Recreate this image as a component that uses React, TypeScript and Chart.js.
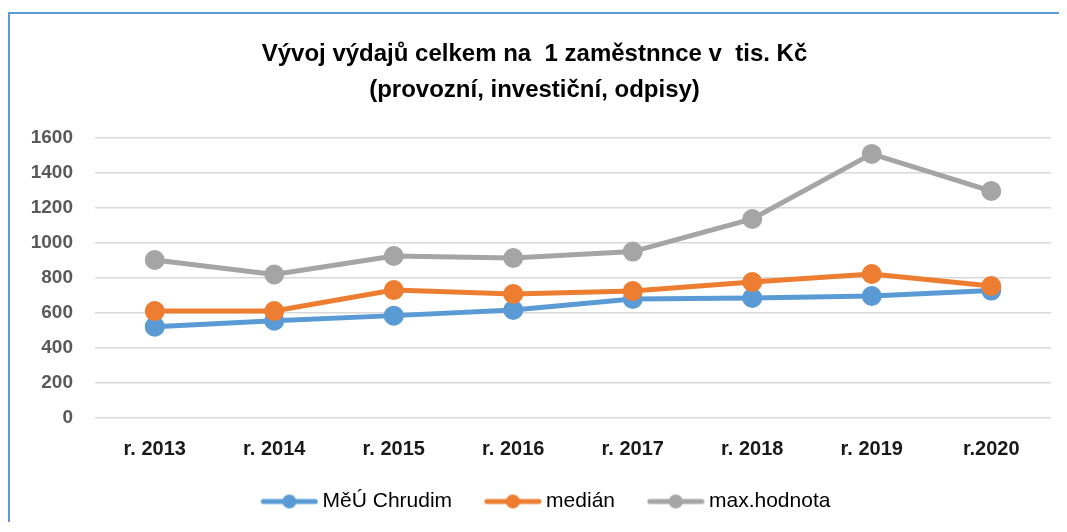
import React, { useEffect, useRef } from "react";
import { Chart, registerables } from "chart.js";

Chart.register(...registerables);

const categories = ["r. 2013", "r. 2014", "r. 2015", "r. 2016", "r. 2017", "r. 2018", "r. 2019", "r.2020"];
const mestskyUrad = [522, 556, 585, 617, 680, 686, 697, 728];
const median = [611, 611, 731, 709, 726, 777, 823, 754];
const maxHodnota = [903, 820, 926, 914, 951, 1137, 1509, 1297];
const seriesNames = ["MěÚ Chrudim", "medián", "max.hodnota"];
const titleLines = ["Vývoj výdajů celkem na  1 zaměstnnce v  tis. Kč", "(provozní, investiční, odpisy)"];

const BLUE = "#5B9BD5";
const ORANGE = "#ED7D31";
const GRAY = "#A5A5A5";
const FONT = "'Liberation Sans', Arial, sans-serif";

function legendIcon(color: string): HTMLCanvasElement {
  const W = 86;
  const H = 18;
  const c = document.createElement("canvas");
  c.width = W;
  c.height = H;
  const ctx = c.getContext("2d")!;
  const a = 29;
  const b = 85;
  ctx.strokeStyle = color;
  ctx.lineWidth = 5;
  ctx.lineCap = "round";
  ctx.beginPath();
  ctx.moveTo(a + 2, H / 2);
  ctx.lineTo(b - 2, H / 2);
  ctx.stroke();
  ctx.fillStyle = color;
  ctx.beginPath();
  ctx.arc((a + b) / 2, H / 2, 7, 0, Math.PI * 2);
  ctx.fill();
  return c;
}

export default function App() {
  const ref = useRef<HTMLCanvasElement | null>(null);

  useEffect(() => {
    if (!ref.current) return;
    document.documentElement.style.overflow = "hidden";
    const colors = [BLUE, ORANGE, GRAY];
    const values = [mestskyUrad, median, maxHodnota];
    const icons = colors.map((c) => legendIcon(c));
    const chart = new Chart(ref.current, {
      type: "line",
      data: {
        labels: categories,
        datasets: values.map((v, i) => ({
          label: seriesNames[i],
          data: v,
          borderColor: colors[i],
          backgroundColor: colors[i],
          pointBackgroundColor: colors[i],
          pointBorderColor: colors[i],
          borderWidth: 5,
          pointRadius: 7.5,
          pointHoverRadius: 7.5,
          pointStyle: "circle",
          tension: 0,
          order: 3 - i,
        })),
      },
      options: {
        animation: false,
        responsive: false,
        devicePixelRatio: 1,
        events: [],
        layout: { padding: { left: 8, right: 16, top: 0, bottom: 0 } },
        plugins: {
          tooltip: { enabled: false },
          title: {
            display: true,
            text: titleLines,
            color: "#000000",
            font: { family: FONT, size: 24, weight: "bold", lineHeight: 1.5 },
            padding: { top: 22, bottom: 30 },
          },
          legend: {
            display: true,
            position: "bottom",
            labels: {
              usePointStyle: true,
              pointStyleWidth: 73.5,
              boxHeight: 18,
              padding: 10,
              color: "#1a1a1a",
              font: { family: FONT, size: 21 },
              generateLabels: (ch: any) =>
                ch.data.datasets.map((ds: any, i: number) => ({
                  text: ds.label,
                  fillStyle: colors[i],
                  strokeStyle: colors[i],
                  lineWidth: 0,
                  pointStyle: icons[i],
                  hidden: false,
                  datasetIndex: i,
                })),
            },
          },
        },
        scales: {
          x: {
            grid: { display: false, drawTicks: false },
            border: { display: false },
            offset: true,
            ticks: {
              color: "#1a1a1a",
              padding: 19,
              font: { family: FONT, size: 20, weight: "bold" },
              maxRotation: 0,
              autoSkip: false,
            },
            afterFit: (scale: any) => {
              scale.height += 1;
            },
          },
          y: {
            min: 0,
            max: 1600,
            grid: { color: "#D9D9D9", lineWidth: 1.5, drawTicks: false },
            border: { display: false },
            ticks: {
              stepSize: 200,
              color: "#595959",
              padding: 22,
              font: { family: FONT, size: 19, weight: "bold" },
              callback: (v: any) => String(v),
            },
            afterFit: (scale: any) => {
              scale.width = 77;
            },
          },
        },
      },
    } as any);
    return () => chart.destroy();
  }, []);

  return (
    <div style={{ paddingTop: 4 }}>
      <div
        style={{
          width: 1080,
          height: 508,
          borderLeft: "2px solid #5B9BD5",
          borderTop: "2px solid #5B9BD5",
        }}
      >
        <canvas ref={ref} width={1057} height={508} style={{ display: "block" }} />
      </div>
    </div>
  );
}
